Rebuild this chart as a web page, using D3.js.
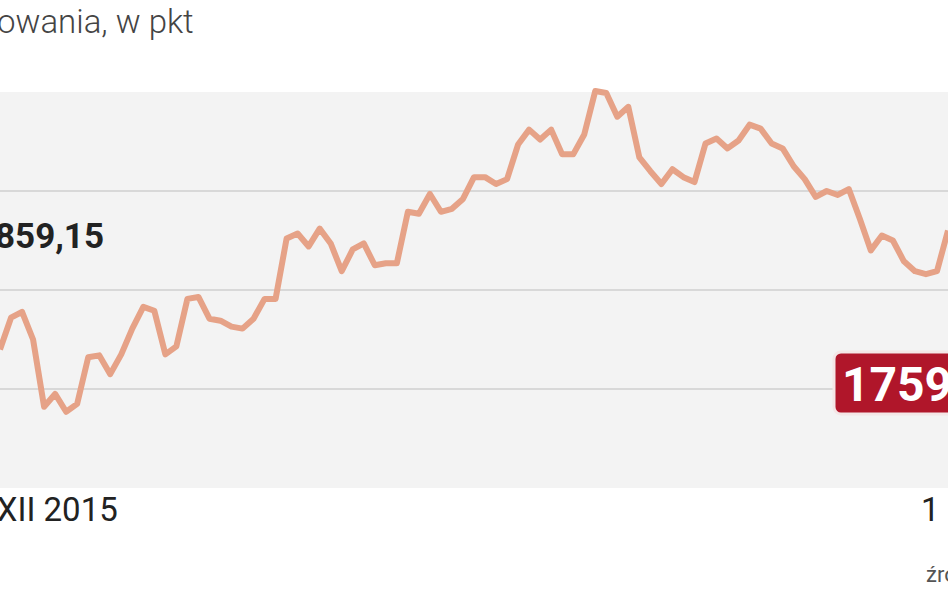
<!DOCTYPE html><html><head><meta charset="utf-8"><script src="https://cdn.jsdelivr.net/npm/d3@7"></script>
<style>body{margin:0;background:#fff}svg{display:block}</style></head><body><svg id="c" width="948" height="593"></svg>
<script>
const values=[1840,1872,1878,1850,1782,1795,1777,1785,1832,1834,1815,1835,1861,1883,1879,1835,1843,1891,1893,1871,1869,1863,1861,1871,1891,1891,1952,1957,1944,1962,1947,1919,1941,1947,1925,1927,1927,1979,1977,1997,1979,1982,1992,2014,2014,2007,2012,2047,2062,2052,2062,2037,2037,2057,2101,2099,2075,2085,2034,2020,2007,2022,2014,2009,2048,2053,2043,2051,2067,2063,2048,2043,2025,2012,1994,2000,1996,2002,1972,1940,1955,1950,1929,1919,1916,1919,1960];
const grid=[2000,1900,1800];
const startLabel="1859,15", endLabel="1759,60";
const svg=d3.select("#c");
const x=d3.scaleLinear().domain([0,values.length-1]).range([0,948]);
const y=d3.scaleLinear().domain([1700,2100]).range([488,92]);
svg.append("rect").attr("x",0).attr("y",y(2100)).attr("width",948).attr("height",y(1700)-y(2100)).attr("fill","#f3f3f3");
svg.selectAll(".g").data(grid).join("line").attr("x1",0).attr("x2",948).attr("y1",d=>y(d)).attr("y2",d=>y(d)).attr("stroke","#cfcfcf").attr("stroke-width",1.5);
svg.append("path").datum(values).attr("fill","none").attr("stroke","#e6a287").attr("stroke-width",6).attr("stroke-linejoin","round")
 .attr("d",d3.line().x((d,i)=>x(i)).y(d=>y(d)));
svg.append("text").attr("x",-3).attr("y",33).attr("font-family","Roboto").attr("font-weight",300).attr("font-size",33).attr("fill","#444").text("owania, w pkt");
svg.append("text").attr("x",104).attr("y",248).attr("text-anchor","end").attr("font-family","Roboto").attr("font-weight","bold").attr("font-size",35).attr("fill","#222").text(startLabel);
svg.append("rect").attr("x",834).attr("y",352).attr("width",200).attr("height",62).attr("rx",7).attr("fill","#b0162a").attr("stroke","#f4e6e6").attr("stroke-width",3);
svg.append("text").attr("x",842).attr("y",401).attr("font-family","Roboto").attr("font-weight","bold").attr("font-size",48).attr("fill","#fff").text(endLabel);
svg.append("text").attr("x",-30).attr("y",521).attr("font-family","Roboto").attr("font-size",33).attr("fill","#222").text("1 XII 2015");
svg.append("text").attr("x",921).attr("y",521).attr("font-family","Roboto").attr("font-size",33).attr("fill","#222").text("1 XII 2016");
svg.append("text").attr("x",926).attr("y",582).attr("font-family","Roboto").attr("font-size",22).attr("fill","#555").text("źródło");
</script></body></html>
